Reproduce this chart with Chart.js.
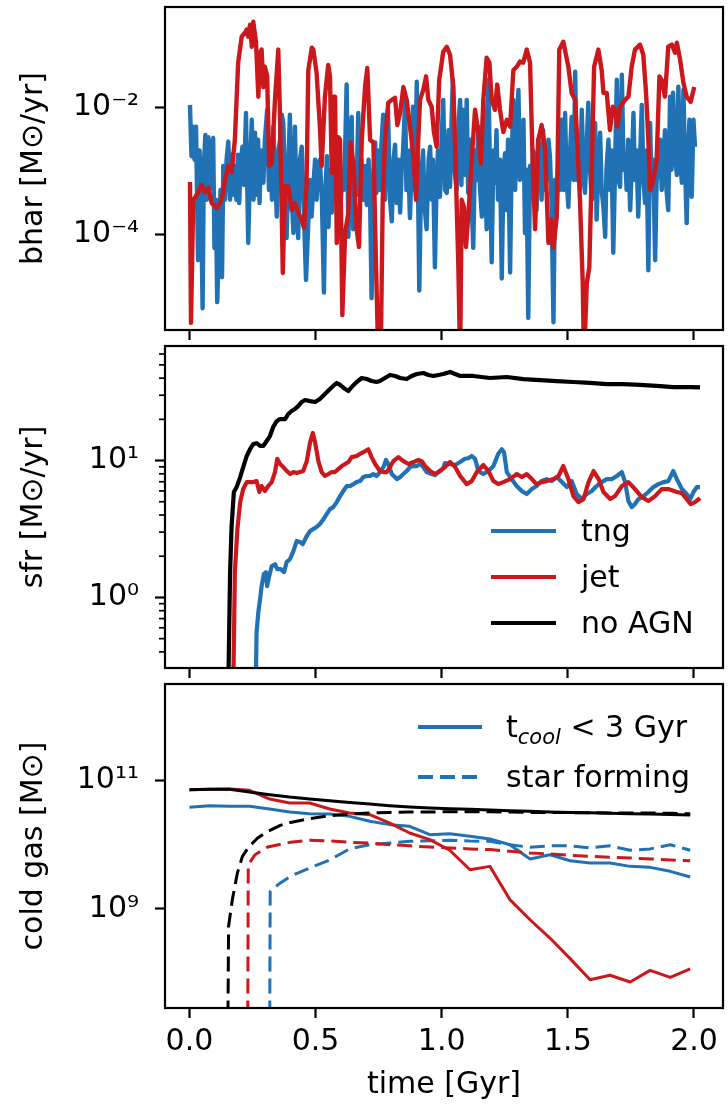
<!DOCTYPE html>
<html>
<head>
<meta charset="utf-8">
<script src="https://cdn.jsdelivr.net/npm/chart.js@4.4.1/dist/chart.umd.min.js"></script>
<style>
  html, body { margin: 0; padding: 0; background: #fff; }
  body { position: relative; width: 728px; height: 1104px; overflow: hidden; font-family: 'DejaVu Sans', sans-serif; color: #000; }
  canvas { position: absolute; left: 0; }
  .key { position: absolute; height: 36px; font-size: 30px; line-height: 36px; white-space: nowrap; z-index: 5; }
  .key svg { position: absolute; left: 0; top: 0; }
  .key span { position: absolute; top: 0; }
  .key sub { font-size: 70%; font-style: italic; vertical-align: -7px; line-height: 0; }
</style>
</head>
<body>
<canvas id="bharChart" width="728" height="345" style="top:0px"></canvas>
<canvas id="sfrChart" width="728" height="344" style="top:339px"></canvas>
<canvas id="gasChart" width="728" height="427" style="top:677px"></canvas>

<div class="key" style="left:491px; top:513px"><svg width="66" height="36"><line x1="0" y1="18" x2="65" y2="18" stroke="#2171b5" stroke-width="4.2"/></svg><span style="left:90px">tng</span></div>
<div class="key" style="left:491px; top:559px"><svg width="66" height="36"><line x1="0" y1="18" x2="65" y2="18" stroke="#cb181d" stroke-width="4.2"/></svg><span style="left:90px">jet</span></div>
<div class="key" style="left:491px; top:605px"><svg width="66" height="36"><line x1="0" y1="18" x2="65" y2="18" stroke="#000" stroke-width="4.2"/></svg><span style="left:90px">no AGN</span></div>

<div class="key" style="left:418px; top:709px"><svg width="66" height="36"><line x1="0" y1="18" x2="64" y2="18" stroke="#2171b5" stroke-width="4"/></svg><span style="left:88px">t<sub>cool</sub> &lt; 3 Gyr</span></div>
<div class="key" style="left:418px; top:759px"><svg width="66" height="36"><line x1="0" y1="18" x2="64" y2="18" stroke="#2171b5" stroke-width="4" stroke-dasharray="15 7"/></svg><span style="left:88px">star forming</span></div>

<script>
const BLUE = '#2171b5';
const RED = '#cb181d';
const BLACK = '#000000';

// shared time axis
const timeTicks = [0, 0.5, 1, 1.5, 2];
const timeTickLabels = ['0.0', '0.5', '1.0', '1.5', '2.0'];

// ---- black hole accretion rate [Msun/yr] ----
const bharTngTime = [
  0.002, 0.008, 0.014, 0.020, 0.026, 0.034, 0.040, 0.046, 0.052, 0.057,
  0.063, 0.069, 0.075, 0.079, 0.085, 0.094, 0.099, 0.105, 0.110, 0.117,
  0.123, 0.129, 0.134, 0.141, 0.147, 0.154, 0.161, 0.167, 0.174, 0.180,
  0.186, 0.192, 0.197, 0.204, 0.210, 0.216, 0.224, 0.233, 0.240, 0.247,
  0.254, 0.260, 0.266, 0.272, 0.278, 0.283, 0.293, 0.299, 0.308, 0.315,
  0.321, 0.327, 0.332, 0.339, 0.346, 0.353, 0.359, 0.366, 0.372, 0.379,
  0.385, 0.393, 0.398, 0.404, 0.412, 0.418, 0.424, 0.431, 0.438, 0.445,
  0.452, 0.462, 0.470, 0.478, 0.484, 0.490, 0.498, 0.504, 0.510, 0.517,
  0.525, 0.533, 0.539, 0.545, 0.551, 0.557, 0.564, 0.571, 0.577, 0.584,
  0.591, 0.597, 0.605, 0.611, 0.617, 0.623, 0.630, 0.636, 0.643, 0.649,
  0.656, 0.662, 0.669, 0.676, 0.682, 0.688, 0.696, 0.703, 0.710, 0.716,
  0.722, 0.730, 0.736, 0.741, 0.747, 0.755, 0.761, 0.768, 0.775, 0.781,
  0.787, 0.795, 0.802, 0.809, 0.815, 0.822, 0.829, 0.835, 0.841, 0.847,
  0.855, 0.860, 0.866, 0.874, 0.880, 0.886, 0.894, 0.901, 0.911, 0.918,
  0.926, 0.932, 0.940, 0.948, 0.954, 0.960, 0.965, 0.973, 0.979, 0.985,
  0.993, 0.999, 1.006, 1.013, 1.020, 1.027, 1.033, 1.039, 1.044, 1.051,
  1.059, 1.067, 1.073, 1.078, 1.084, 1.092, 1.099, 1.105, 1.112, 1.118,
  1.125, 1.132, 1.139, 1.145, 1.152, 1.159, 1.165, 1.172, 1.178, 1.185,
  1.191, 1.198, 1.205, 1.211, 1.217, 1.223, 1.231, 1.238, 1.245, 1.251,
  1.257, 1.263, 1.271, 1.277, 1.284, 1.291, 1.297, 1.304, 1.310, 1.317,
  1.324, 1.330, 1.336, 1.343, 1.350, 1.356, 1.362, 1.370, 1.376, 1.382,
  1.390, 1.396, 1.402, 1.410, 1.416, 1.423, 1.429, 1.435, 1.443, 1.449,
  1.456, 1.463, 1.469, 1.476, 1.483, 1.489, 1.495, 1.502, 1.509, 1.515,
  1.523, 1.529, 1.535, 1.542, 1.548, 1.555, 1.562, 1.568, 1.574, 1.581,
  1.588, 1.595, 1.602, 1.608, 1.614, 1.622, 1.628, 1.634, 1.641, 1.648,
  1.653, 1.661, 1.667, 1.673, 1.680, 1.687, 1.694, 1.701, 1.707, 1.714,
  1.721, 1.727, 1.733, 1.739, 1.747, 1.753, 1.760, 1.766, 1.772, 1.779,
  1.786, 1.793, 1.800, 1.806, 1.812, 1.819, 1.826, 1.832, 1.838, 1.846,
  1.852, 1.859, 1.866, 1.872, 1.879, 1.885, 1.891, 1.898, 1.905, 1.911,
  1.917, 1.924, 1.932, 1.938, 1.945, 1.952, 1.958, 1.965, 1.971, 1.977,
  1.982, 1.986, 1.991, 1.998, 2.004
];
const bharTng = [
  0.011, 0.0017, 0.005, 0.0015, 0.005, 0.000039, 0.0021, 0.00035, 0.0000068, 0.0012,
  0.0037, 0.00035, 0.0034, 0.0005, 0.0021, 0.0033, 0.000061, 0.00035, 0.0000085, 0.000081,
  0.0005, 0.000021, 0.0012, 0.00035, 0.0015, 0.0029, 0.00035, 0.0018, 0.00042, 0.0012,
  0.00035, 0.0018, 0.00031, 0.0015, 0.0024, 0.0006, 0.0082, 0.000073, 0.00104, 0.0064,
  0.00035, 0.004, 0.00042, 0.0031, 0.00031, 0.0021, 0.00065, 0.0031, 0.0092, 0.0005,
  0.0021, 0.00035, 0.005, 0.00104, 0.00019, 0.0021, 0.0031, 0.0077, 0.0057, 0.00072,
  0.000087, 0.0015, 0.0077, 0.0005, 0.000105, 0.005, 0.00035, 0.000087, 0.0015, 0.0024,
  0.00035, 0.000019, 0.00012, 0.00072, 0.00019, 0.0005, 0.0015, 0.00035, 0.0012, 0.0015,
  0.00035, 0.000012, 0.0005, 0.0017, 0.00013, 0.00104, 0.00022, 0.0012, 0.00035, 0.0008,
  0.00035, 0.00017, 0.00104, 0.0005, 0.0021, 0.023, 0.000091, 0.0015, 0.0071, 0.00012,
  0.00104, 0.00042, 0.0082, 0.00035, 0.0015, 0.00035, 0.0012, 0.00029, 0.0015, 0.00035,
  0.0000098, 0.00104, 0.0028, 0.00045, 0.0021, 0.0005, 0.0026, 0.0077, 0.00035, 0.0021,
  0.0092, 0.00035, 0.00016, 0.0015, 0.0026, 0.00031, 0.0015, 0.00022, 0.00104, 0.0021,
  0.0132, 0.0005, 0.0021, 0.00018, 0.00104, 0.0103, 0.0005, 0.0255, 0.000013, 0.00072,
  0.0021, 0.00027, 0.00012, 0.0015, 0.0024, 0.00035, 0.0015, 0.00003, 0.0005, 0.0021,
  0.00039, 0.0028, 0.0132, 0.0005, 0.00045, 0.0044, 0.00056, 0.0064, 0.0274, 0.00104,
  0.0005, 0.0064, 0.0132, 0.0006, 0.0092, 0.00086, 0.0132, 0.00045, 0.0031, 0.00035,
  0.000061, 0.0021, 0.00072, 0.005, 0.0005, 0.00019, 0.0132, 0.00104, 0.00012, 0.0274,
  0.0012, 0.000036, 0.0021, 0.00065, 0.0044, 0.00035, 0.0015, 0.00002, 0.00104, 0.0019,
  0.00024, 0.0031, 0.000025, 0.0015, 0.0132, 0.0005, 0.0044, 0.019, 0.00072, 0.00104,
  0.0064, 0.000105, 0.00104, 0.0000048, 0.0012, 0.00035, 0.0021, 0.0015, 0.00024, 0.0031,
  0.0019, 0.00035, 0.0044, 0.0005, 0.0008, 0.0031, 0.0017, 0.00035, 0.0000041, 0.00072,
  0.00022, 0.0021, 0.0005, 0.0064, 0.0005, 0.0082, 0.00072, 0.00027, 0.0021, 0.0071,
  0.00072, 0.0366, 0.00072, 0.0031, 0.0005, 0.0092, 0.00104, 0.00045, 0.0021, 0.0119,
  0.00104, 0.00035, 0.0031, 0.0057, 0.00017, 0.0015, 0.004, 0.0005, 0.00027, 0.000091,
  0.00104, 0.0031, 0.0005, 0.0021, 0.000051, 0.00104, 0.0274, 0.00072, 0.00056, 0.0329,
  0.00104, 0.0017, 0.0005, 0.0031, 0.00024, 0.00104, 0.0082, 0.00072, 0.0021, 0.00019,
  0.0015, 0.011, 0.00072, 0.00031, 0.0021, 0.000027, 0.0057, 0.0005, 0.0015, 0.000039,
  0.00072, 0.0012, 0.0031, 0.0005, 0.0015, 0.0044, 0.0005, 0.00024, 0.0148, 0.00104,
  0.0171, 0.0021, 0.00086, 0.0212, 0.0015, 0.00065, 0.019, 0.00104, 0.00015, 0.0021,
  0.0064, 0.00104, 0.00039, 0.0064, 0.0024
];
const bharJetTime = [
  0.002, 0.006, 0.015, 0.022, 0.035, 0.048, 0.061, 0.075, 0.088, 0.108,
  0.128, 0.141, 0.154, 0.167, 0.180, 0.193, 0.207, 0.220, 0.227, 0.233,
  0.240, 0.247, 0.253, 0.264, 0.273, 0.280, 0.286, 0.293, 0.299, 0.308,
  0.316, 0.326, 0.339, 0.352, 0.359, 0.370, 0.379, 0.392, 0.405, 0.418,
  0.431, 0.445, 0.454, 0.464, 0.471, 0.485, 0.491, 0.504, 0.517, 0.524,
  0.537, 0.550, 0.557, 0.564, 0.570, 0.577, 0.584, 0.590, 0.597, 0.606,
  0.617, 0.630, 0.639, 0.650, 0.663, 0.672, 0.683, 0.696, 0.705, 0.716,
  0.729, 0.739, 0.749, 0.758, 0.766, 0.775, 0.788, 0.802, 0.815, 0.824,
  0.835, 0.848, 0.861, 0.874, 0.888, 0.898, 0.907, 0.914, 0.927, 0.938,
  0.947, 0.960, 0.969, 0.980, 0.990, 1.006, 1.020, 1.033, 1.046, 1.057,
  1.066, 1.073, 1.079, 1.088, 1.096, 1.105, 1.119, 1.132, 1.145, 1.155,
  1.165, 1.178, 1.189, 1.198, 1.211, 1.220, 1.231, 1.244, 1.258, 1.271,
  1.284, 1.298, 1.310, 1.323, 1.337, 1.350, 1.361, 1.370, 1.383, 1.396,
  1.410, 1.423, 1.433, 1.443, 1.456, 1.466, 1.482, 1.502, 1.515, 1.529,
  1.535, 1.548, 1.559, 1.564, 1.575, 1.585, 1.595, 1.604, 1.621, 1.634,
  1.641, 1.654, 1.667, 1.678, 1.687, 1.696, 1.707, 1.727, 1.740, 1.753,
  1.766, 1.786, 1.799, 1.810, 1.819, 1.826, 1.839, 1.852, 1.863, 1.872,
  1.885, 1.898, 1.912, 1.925, 1.932, 1.945, 1.958, 1.971, 1.987, 2.001
];
const bharJet = [
  0.00067, 0.000004, 0.00035, 0.00038, 0.00046, 0.0006, 0.00046, 0.00054, 0.00031, 0.00026,
  0.00035, 0.00072, 0.0012, 0.00096, 0.0031, 0.051, 0.131, 0.151, 0.17, 0.131,
  0.202, 0.091, 0.226, 0.105, 0.0148, 0.073, 0.082, 0.021, 0.044, 0.031,
  0.0012, 0.0013, 0.0132, 0.082, 0.0071, 0.0000245, 0.00058, 0.00057, 0.00024, 0.00031,
  0.00022, 0.00017, 0.000126, 0.00058, 0.039, 0.088, 0.082, 0.035, 0.005, 0.0012,
  0.0148, 0.047, 0.031, 0.00093, 0.0148, 0.0148, 0.000073, 0.0034, 0.0031, 0.0000053,
  0.000105, 0.00022, 0.0028, 0.0012, 0.000117, 0.000063, 0.0031, 0.021, 0.042, 0.0031,
  0.0028, 0.000039, 0.000001, 0.000001, 0.00035, 0.0028, 0.0119, 0.0132, 0.0142, 0.0053,
  0.0082, 0.021, 0.0132, 0.005, 0.0017, 0.00035, 0.0031, 0.0132, 0.019, 0.031,
  0.0132, 0.0103, 0.0041, 0.0024, 0.027, 0.076, 0.091, 0.068, 0.021, 0.00065,
  0.00003, 0.000001, 0.00035, 0.00027, 0.000063, 0.00019, 0.0015, 0.0092, 0.004, 0.0013,
  0.0132, 0.061, 0.051, 0.0132, 0.0092, 0.023, 0.0092, 0.0041, 0.0064, 0.005,
  0.039, 0.044, 0.053, 0.051, 0.082, 0.051, 0.0012, 0.00012, 0.0031, 0.0053,
  0.0021, 0.000073, 0.00017, 0.000061, 0.00019, 0.082, 0.109, 0.044, 0.017, 0.0132,
  0.0044, 0.00035, 0.000017, 0.000001, 0.000017, 0.00003, 0.0012, 0.044, 0.082, 0.039,
  0.017, 0.017, 0.0044, 0.0103, 0.0092, 0.005, 0.0103, 0.0132, 0.0148, 0.044,
  0.082, 0.098, 0.068, 0.017, 0.0031, 0.0005, 0.00072, 0.0015, 0.031, 0.027,
  0.0148, 0.091, 0.098, 0.073, 0.105, 0.057, 0.0246, 0.0148, 0.0123, 0.021
];
const bharTicks = [1e-4, 1e-2];
const bharTickLabels = ['10⁻⁴', '10⁻²'];

// ---- star formation rate [Msun/yr] ----
const sfrTngTime = [
  0.260, 0.266, 0.273, 0.280, 0.286, 0.295, 0.303, 0.308, 0.316, 0.326,
  0.339, 0.348, 0.362, 0.375, 0.385, 0.398, 0.412, 0.425, 0.438, 0.449,
  0.465, 0.478, 0.491, 0.504, 0.517, 0.531, 0.544, 0.557, 0.570, 0.584,
  0.597, 0.610, 0.623, 0.636, 0.650, 0.663, 0.676, 0.689, 0.703, 0.716,
  0.729, 0.742, 0.755, 0.769, 0.779, 0.788, 0.802, 0.822, 0.835, 0.848,
  0.861, 0.874, 0.888, 0.901, 0.914, 0.927, 0.940, 0.960, 0.973, 0.987,
  1.006, 1.013, 1.033, 1.053, 1.073, 1.092, 1.105, 1.119, 1.132, 1.145,
  1.165, 1.185, 1.205, 1.224, 1.238, 1.247, 1.258, 1.277, 1.297, 1.317,
  1.337, 1.357, 1.376, 1.396, 1.416, 1.436, 1.456, 1.476, 1.496, 1.515,
  1.535, 1.555, 1.575, 1.595, 1.614, 1.634, 1.654, 1.674, 1.694, 1.714,
  1.727, 1.740, 1.753, 1.766, 1.780, 1.800, 1.819, 1.839, 1.859, 1.879,
  1.898, 1.918, 1.932, 1.952, 1.971, 1.985, 1.998, 2.011, 2.024
];
const sfrTng = [
  0.1, 0.557, 0.782, 0.973, 1.21, 1.48, 1.53, 1.21, 1.43, 1.69,
  1.75, 1.61, 1.61, 1.53, 1.81, 1.90, 2.18, 2.58, 2.54, 2.45,
  2.81, 3.05, 3.16, 3.27, 3.44, 3.73, 4.06, 4.42, 4.57, 4.97,
  5.50, 5.99, 6.51, 6.51, 6.73, 6.96, 7.08, 7.57, 7.71, 7.71,
  7.97, 7.71, 8.24, 8.96, 10.1, 9.43, 7.97, 7.32, 7.57, 7.97,
  8.38, 8.96, 9.12, 9.12, 9.43, 8.96, 8.24, 7.97, 7.84, 8.24,
  8.81, 9.59, 9.43, 9.27, 9.75, 10.3, 10.4, 10.8, 10.3, 8.38,
  7.97, 8.38, 9.12, 11.2, 12.1, 11.5, 8.24, 7.32, 6.51, 5.99,
  5.69, 6.19, 6.51, 7.08, 7.32, 7.08, 7.57, 6.96, 6.40, 7.08,
  5.69, 5.23, 5.69, 5.99, 6.51, 6.96, 7.32, 7.32, 7.71, 8.24,
  6.96, 5.06, 4.57, 4.81, 5.23, 5.50, 5.89, 6.40, 6.73, 6.96,
  7.08, 8.38, 7.32, 6.19, 5.69, 5.23, 5.89, 6.40, 6.40
];
const sfrJetTime = [
  0.171, 0.180, 0.190, 0.201, 0.213, 0.227, 0.240, 0.253, 0.266, 0.277,
  0.286, 0.299, 0.312, 0.326, 0.339, 0.348, 0.359, 0.372, 0.386, 0.399,
  0.412, 0.425, 0.438, 0.451, 0.465, 0.478, 0.489, 0.498, 0.511, 0.524,
  0.537, 0.551, 0.564, 0.577, 0.590, 0.604, 0.617, 0.630, 0.643, 0.663,
  0.676, 0.689, 0.709, 0.722, 0.736, 0.755, 0.769, 0.782, 0.795, 0.808,
  0.828, 0.848, 0.868, 0.888, 0.907, 0.921, 0.934, 0.954, 0.973, 0.993,
  1.013, 1.033, 1.053, 1.073, 1.099, 1.119, 1.139, 1.165, 1.185, 1.205,
  1.224, 1.244, 1.271, 1.298, 1.317, 1.337, 1.357, 1.376, 1.396, 1.416,
  1.443, 1.463, 1.482, 1.502, 1.522, 1.542, 1.562, 1.582, 1.602, 1.622,
  1.641, 1.668, 1.687, 1.714, 1.740, 1.766, 1.793, 1.819, 1.846, 1.872,
  1.898, 1.932, 1.952, 1.971, 1.987, 2.004, 2.024
];
const sfrJet = [
  0.1, 1.53, 3.16, 4.97, 6.19, 6.96, 6.96, 6.96, 7.08, 5.89,
  6.51, 5.99, 6.51, 6.96, 8.24, 10.3, 9.43, 8.96, 8.38, 7.97,
  8.24, 8.11, 8.24, 8.38, 9.9, 13.6, 15.9, 13.6, 9.9, 8.24,
  7.71, 7.97, 8.24, 8.24, 8.67, 9.12, 9.43, 9.75, 10.6, 10.8,
  11.2, 11.5, 12.1, 10.6, 9.43, 8.38, 8.24, 8.24, 8.96, 9.9,
  10.6, 9.9, 9.43, 9.75, 10.1, 9.9, 9.12, 8.38, 7.97, 8.38,
  8.96, 9.75, 8.96, 7.71, 6.73, 7.08, 8.24, 9.27, 8.38, 7.08,
  6.73, 6.96, 7.32, 7.97, 7.57, 7.97, 7.32, 6.73, 6.96, 7.08,
  7.32, 7.71, 9.12, 7.32, 5.5, 4.97, 5.23, 6.96, 8.38, 7.32,
  5.89, 5.23, 5.5, 6.51, 6.96, 6.19, 5.41, 5.06, 5.5, 6.19,
  6.19, 5.89, 5.78, 5.23, 4.81, 4.97, 5.32
];
const sfrNoAgnTime = [
  0.151, 0.161, 0.167, 0.176, 0.187, 0.201, 0.213, 0.227, 0.240, 0.253,
  0.266, 0.280, 0.293, 0.306, 0.319, 0.332, 0.346, 0.359, 0.379, 0.392,
  0.405, 0.418, 0.431, 0.445, 0.458, 0.478, 0.498, 0.517, 0.537, 0.557,
  0.570, 0.584, 0.597, 0.617, 0.630, 0.643, 0.663, 0.683, 0.703, 0.722,
  0.742, 0.755, 0.775, 0.795, 0.815, 0.835, 0.861, 0.881, 0.901, 0.927,
  0.947, 0.967, 0.987, 1.006, 1.033, 1.073, 1.125, 1.191, 1.258, 1.324,
  1.390, 1.456, 1.522, 1.588, 1.654, 1.720, 1.786, 1.852, 1.918, 1.985,
  2.024
];
const sfrNoAgn = [
  0.1, 1.53, 3.32, 5.89, 6.40, 7.57, 8.96, 10.8, 12.1, 13.2,
  13.4, 12.8, 12.8, 13.9, 15.1, 17.6, 19.4, 20.1, 20.1, 21.9,
  23.0, 23.8, 25.0, 26.8, 27.7, 27.2, 26.8, 28.2, 30.6, 33.3,
  35.1, 36.9, 35.7, 33.3, 32.2, 34.5, 37.5, 40.1, 39.4, 38.1,
  37.5, 38.1, 40.1, 42.2, 41.5, 40.1, 39.4, 41.5, 42.9, 43.6,
  42.2, 41.5, 42.2, 42.9, 44.4, 41.5, 41.5, 40.1, 40.8, 39.4,
  38.7, 38.1, 37.5, 36.9, 36.2, 36.2, 35.7, 35.1, 34.4, 34.4,
  34.3
];
const sfrTicks = [1, 10];
const sfrTickLabels = ['10⁰', '10¹'];
const sfrMinorTicks = [0.4, 0.5, 0.6, 0.7, 0.8, 0.9, 2, 3, 4, 5, 6, 7, 8, 9, 20, 30, 40, 50, 60];

// ---- cold gas mass [Msun] ----
const gasTime = [
  0, 0.079, 0.159, 0.238, 0.318, 0.397, 0.476, 0.556, 0.635, 0.715,
  0.794, 0.873, 0.953, 1.032, 1.112, 1.191, 1.270, 1.350, 1.429, 1.509,
  1.588, 1.667, 1.747, 1.826, 1.906, 1.985
];
const coolTng = [
  3.81e10, 4.05e10, 3.95e10, 3.95e10, 3.59e10, 3.22e10, 3.04e10, 3.0e10, 2.76e10, 2.31e10,
  2.05e10, 1.93e10, 1.43e10, 1.48e10, 1.35e10, 1.23e10, 1.0e10, 5.98e9, 6.98e9, 5.63e9,
  5.19e9, 5.19e9, 4.6e9, 4.44e9, 3.85e9, 3.14e9
];
const coolJet = [
  7.17e10, 7.26e10, 7.35e10, 7.0e10, 5.13e10, 4.45e10, 4.45e10, 3.59e10, 3.11e10, 2.93e10,
  2.17e10, 1.52e10, 1.2e10, 8.2e9, 4.08e9, 4.6e9, 1.4e9, 6.8e8, 3.53e8, 1.69e8,
  7.9e7, 9.3e7, 7.3e7, 1.11e8, 8.6e7, 1.17e8
];
const coolNoAgn = [
  7.17e10, 7.26e10, 7.26e10, 6.6e10, 6.0e10, 5.5e10, 5.13e10, 4.83e10, 4.55e10, 4.29e10,
  4.04e10, 3.85e10, 3.72e10, 3.63e10, 3.55e10, 3.46e10, 3.38e10, 3.30e10, 3.22e10, 3.18e10,
  3.15e10, 3.07e10, 3.03e10, 3.0e10, 2.96e10, 2.89e10
];
const sfGasTngTime = [
  0.318, 0.32, 0.36, 0.40, 0.476, 0.556, 0.635, 0.715, 0.794, 0.873,
  0.953, 1.032, 1.112, 1.191, 1.270, 1.350, 1.429, 1.509, 1.588, 1.667,
  1.747, 1.826, 1.906, 1.985
];
const sfGasTng = [
  1e7, 1.88e9, 2.54e9, 3.22e9, 4.34e9, 5.8e9, 8.6e9, 1.0e10, 1.06e10, 1.13e10,
  1.15e10, 1.17e10, 1.14e10, 1.13e10, 1.0e10, 9.1e9, 9.6e9, 9.6e9, 8.9e9, 9.6e9,
  8.2e9, 8.6e9, 1.0e10, 8.2e9
];
const sfGasJetTime = [
  0.231, 0.233, 0.26, 0.31, 0.40, 0.476, 0.556, 0.635, 0.715, 0.794,
  0.873, 0.953, 1.032, 1.112, 1.191, 1.270, 1.350, 1.429, 1.509, 1.588,
  1.667, 1.747, 1.826, 1.906, 1.985
];
const sfGasJet = [
  1e7, 4.89e9, 6.98e9, 9.2e9, 1.09e10, 1.17e10, 1.15e10, 1.09e10, 1.06e10, 1.0e10,
  9.6e9, 9.2e9, 8.9e9, 8.6e9, 8.4e9, 7.9e9, 7.4e9, 7.2e9, 6.8e9, 6.6e9,
  6.4e9, 6.2e9, 6.0e9, 5.8e9, 5.6e9
];
const sfGasNoAgnTime = [
  0.152, 0.155, 0.17, 0.19, 0.21, 0.235, 0.27, 0.31, 0.36, 0.40,
  0.476, 0.556, 0.635, 0.715, 0.794, 0.873, 0.953, 1.032, 1.112, 1.191,
  1.270, 1.350, 1.429, 1.509, 1.588, 1.667, 1.747, 1.826, 1.906, 1.985
];
const sfGasNoAgn = [
  1e7, 5.37e8, 1.4e9, 3.63e9, 6.6e9, 9.2e9, 1.27e10, 1.61e10, 2.0e10, 2.22e10,
  2.54e10, 2.82e10, 3.0e10, 3.11e10, 3.18e10, 3.22e10, 3.22e10, 3.26e10, 3.26e10, 3.26e10,
  3.22e10, 3.18e10, 3.18e10, 3.15e10, 3.15e10, 3.11e10, 3.11e10, 3.11e10, 3.07e10, 3.03e10
];
const gasTicks = [1e9, 1e11];
const gasTickLabels = ['10⁹', '10¹¹'];

Chart.defaults.font.family = "'DejaVu Sans', sans-serif";
Chart.defaults.font.size = 30;
Chart.defaults.color = '#000';

function series(xs, ys) {
  return xs.map((x, i) => ({ x: x, y: ys[i] }));
}

// full axes box plus minor log ticks, like matplotlib spines
const boxFrame = {
  id: 'boxFrame',
  afterDraw(chart, args, opts) {
    const { ctx, chartArea: a } = chart;
    const y = chart.scales.y;
    ctx.save();
    ctx.strokeStyle = '#000';
    ctx.lineWidth = 1.7;
    (opts.minor || []).forEach(v => {
      const py = y.getPixelForValue(v);
      ctx.beginPath();
      ctx.moveTo(a.left - 6, py);
      ctx.lineTo(a.left, py);
      ctx.stroke();
    });
    ctx.lineWidth = 2.2;
    ctx.strokeRect(a.left, a.top, a.right - a.left, a.bottom - a.top);
    ctx.restore();
  }
};

function panel(id, cfg) {
  return new Chart(document.getElementById(id), {
    type: 'line',
    data: { datasets: cfg.datasets },
    options: {
      responsive: false,
      animation: false,
      devicePixelRatio: 1,
      events: [],
      layout: { padding: { top: 7, right: 5, bottom: 0, left: 0 } },
      elements: {
        point: { radius: 0 },
        line: { tension: 0, borderJoinStyle: 'round', fill: false }
      },
      plugins: {
        legend: { display: false },
        tooltip: { enabled: false },
        boxFrame: { minor: cfg.minor || [] }
      },
      scales: {
        x: {
          type: 'linear',
          position: 'bottom',
          bounds: 'data',
          min: -0.097,
          max: 2.115,
          afterBuildTicks: s => { s.ticks = timeTicks.map(v => ({ value: v })); },
          afterFit: s => { s.height = cfg.xHeight; s.paddingLeft = 0; s.paddingRight = 0; },
          border: { display: false },
          grid: { drawOnChartArea: false, drawTicks: true, tickLength: 10, tickWidth: 2.2, tickColor: '#000' },
          ticks: {
            display: cfg.xLabels,
            padding: 6,
            maxRotation: 0,
            autoSkip: false,
            callback: (v, i) => timeTickLabels[i]
          },
          title: {
            display: cfg.xLabels,
            text: 'time [Gyr]',
            padding: { top: 0, bottom: 1 }
          }
        },
        y: {
          type: 'logarithmic',
          position: 'left',
          bounds: 'data',
          min: cfg.yMin,
          max: cfg.yMax,
          afterBuildTicks: s => { s.ticks = cfg.yTicks.map(v => ({ value: v })); },
          afterFit: s => { s.width = 165; s.paddingTop = 0; s.paddingBottom = 0; },
          border: { display: false },
          grid: { drawOnChartArea: false, drawTicks: true, tickLength: 10, tickWidth: 2.2, tickColor: '#000' },
          ticks: {
            padding: 16,
            autoSkip: false,
            callback: (v, i) => cfg.yTickLabels[i]
          },
          title: {
            display: true,
            text: cfg.yTitle,
            padding: { top: 16, bottom: 0 }
          }
        }
      }
    },
    plugins: [boxFrame]
  });
}

function line(xs, ys, color, width, order, dash) {
  return {
    data: series(xs, ys),
    borderColor: color,
    borderWidth: width,
    borderDash: dash || [],
    order: order,
    clip: 0
  };
}

panel('bharChart', {
  datasets: [
    line(bharJetTime, bharJet, RED, 4.4, 0),
    line(bharTngTime, bharTng, BLUE, 4.4, 1)
  ],
  yMin: 3.09e-6, yMax: 0.385,
  yTicks: bharTicks, yTickLabels: bharTickLabels,
  yTitle: 'bhar [M⊙/yr]',
  xLabels: false, xHeight: 15
});

panel('sfrChart', {
  datasets: [
    line(sfrNoAgnTime, sfrNoAgn, BLACK, 4.2, 0),
    line(sfrJetTime, sfrJet, RED, 4.2, 1),
    line(sfrTngTime, sfrTng, BLUE, 4.2, 2)
  ],
  yMin: 0.305, yMax: 68.7,
  yTicks: sfrTicks, yTickLabels: sfrTickLabels,
  minor: sfrMinorTicks,
  yTitle: 'sfr [M⊙/yr]',
  xLabels: false, xHeight: 15
});

panel('gasChart', {
  datasets: [
    line(sfGasNoAgnTime, sfGasNoAgn, BLACK, 3, 0, [15, 7]),
    line(gasTime, coolNoAgn, BLACK, 3, 1),
    line(sfGasJetTime, sfGasJet, RED, 3, 2, [15, 7]),
    line(gasTime, coolJet, RED, 3, 3),
    line(sfGasTngTime, sfGasTng, BLUE, 3, 4, [15, 7]),
    line(gasTime, coolTng, BLUE, 3, 5)
  ],
  yMin: 2.88e7, yMax: 3.16e12,
  yTicks: gasTicks, yTickLabels: gasTickLabels,
  yTitle: 'cold gas [M⊙]',
  xLabels: true, xHeight: 96
});
</script>
</body>
</html>
